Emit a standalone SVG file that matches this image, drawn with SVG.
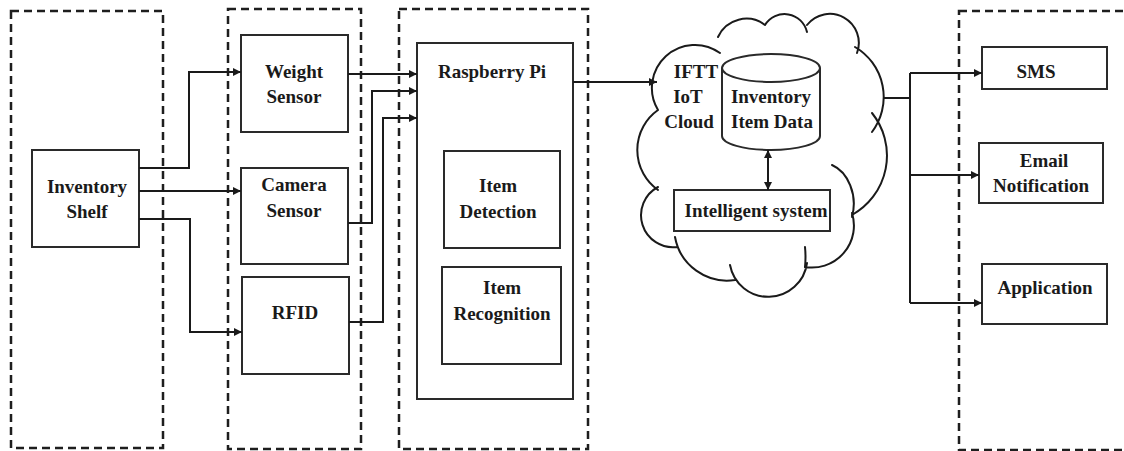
<svg xmlns="http://www.w3.org/2000/svg" width="1124" height="451" viewBox="0 0 1124 451">
<style>
.dash{fill:none;stroke:#1e1e1e;stroke-width:2.5;stroke-dasharray:8 5}
.box{fill:#fff;stroke:#2a2a2a;stroke-width:2}
.t{font-family:"Liberation Serif","Times New Roman",serif;font-weight:bold;font-size:19px;fill:#1a1a1a;text-anchor:middle}
.c{fill:none;stroke:#1a1a1a;stroke-width:2}
.cl{fill:none;stroke:#1a1a1a;stroke-width:2;stroke-linecap:round}
</style>
<defs>
<marker id="arr" viewBox="0 0 10 10" refX="10" refY="5" markerWidth="9" markerHeight="8" markerUnits="userSpaceOnUse" orient="auto-start-reverse">
<path d="M0,0 L10,5 L0,10 z" fill="#1a1a1a"/>
</marker>
</defs>
<rect width="1124" height="451" fill="#fff"/>

<g id="group-source"><rect class="dash" x="11" y="11" width="152" height="437"/></g>
<g id="group-sensors"><rect class="dash" x="228" y="9" width="133" height="440"/></g>
<g id="group-processing"><rect class="dash" x="399" y="9" width="189" height="440"/></g>
<g id="group-outputs"><rect class="dash" x="959" y="11" width="200" height="439"/></g>

<g id="cloud">
<path class="cl" d="M658,110 A43,43 0 0 1 720,53 M718,37 A31,31 0 0 1 765,25 M765,25 A23,23 0 0 1 807,32 M807,25 A29,29 0 0 1 857,53 M855,47 A58,58 0 0 1 872,132 M872,113 A68,68 0 0 1 852,215 M852,213 A42,42 0 0 1 805,267 M807,263 A39,39 0 0 1 730,265 M735,280 A53,53 0 0 1 675,237 M677,247 A32,32 0 0 1 658,187 M658,190 A49,49 0 0 1 658,110"/>
<path class="cl" d="M832,165 C848,172 858,195 852,217 M805,247 Q806,257 805,267"/>
<text class="t" x="696" y="78">IFTT</text>
<text class="t" x="688" y="103">IoT</text>
<text class="t" x="689" y="128">Cloud</text>
</g>

<g id="inventory-shelf">
<rect class="box" x="32" y="150" width="107" height="97"/>
<text class="t" x="87" y="193">Inventory</text>
<text class="t" x="87" y="218">Shelf</text>
</g>
<g id="weight-sensor">
<rect class="box" x="241" y="35" width="107" height="97"/>
<text class="t" x="294" y="78">Weight</text>
<text class="t" x="294" y="103">Sensor</text>
</g>
<g id="camera-sensor">
<rect class="box" x="241" y="168" width="107" height="96"/>
<text class="t" x="294" y="191">Camera</text>
<text class="t" x="294" y="217">Sensor</text>
</g>
<g id="rfid">
<rect class="box" x="242" y="277" width="107" height="97"/>
<text class="t" x="295" y="319">RFID</text>
</g>
<g id="raspberry-pi">
<rect class="box" x="417" y="43" width="156" height="356"/>
<text class="t" x="492" y="78">Raspberry Pi</text>
</g>
<g id="item-detection">
<rect class="box" x="444" y="151" width="116" height="97"/>
<text class="t" x="498" y="192">Item</text>
<text class="t" x="498" y="218">Detection</text>
</g>
<g id="item-recognition">
<rect class="box" x="442" y="267" width="119" height="97"/>
<text class="t" x="502" y="294">Item</text>
<text class="t" x="502" y="320">Recognition</text>
</g>
<g id="inventory-item-data">
<path class="box" d="M722,68 V136 A49,14 0 0 0 820,136 V68"/>
<ellipse class="box" cx="771" cy="68" rx="49" ry="14"/>
<text class="t" x="771" y="103">Inventory</text>
<text class="t" x="772" y="128">Item Data</text>
</g>
<g id="intelligent-system">
<rect class="box" x="674" y="190" width="156" height="41"/>
<text class="t" x="756" y="217">Intelligent system</text>
</g>
<g id="sms">
<rect class="box" x="982" y="47" width="125" height="42"/>
<text class="t" x="1036" y="78">SMS</text>
</g>
<g id="email-notification">
<rect class="box" x="979" y="143" width="124" height="60"/>
<text class="t" x="1044" y="167">Email</text>
<text class="t" x="1041" y="192">Notification</text>
</g>
<g id="application">
<rect class="box" x="982" y="264" width="125" height="60"/>
<text class="t" x="1045" y="294">Application</text>
</g>

<g id="connectors">
<path class="c" d="M139,168 H189 V72 H241" marker-end="url(#arr)"/>
<path class="c" d="M139,191 H241" marker-end="url(#arr)"/>
<path class="c" d="M139,219 H190 V332 H242" marker-end="url(#arr)"/>
<path class="c" d="M348,74 H417" marker-end="url(#arr)"/>
<path class="c" d="M348,223 H372 V91 H417" marker-end="url(#arr)"/>
<path class="c" d="M349,322 H383 V118 H417" marker-end="url(#arr)"/>
<path class="c" d="M573,82 H657" marker-end="url(#arr)"/>
<path class="c" d="M768,150 V190" marker-start="url(#arr)" marker-end="url(#arr)"/>
<path class="c" d="M883,98 H910 M910,73 V303"/>
<path class="c" d="M910,73 H982" marker-end="url(#arr)"/>
<path class="c" d="M910,175 H979" marker-end="url(#arr)"/>
<path class="c" d="M910,303 H982" marker-end="url(#arr)"/>
</g>
</svg>
